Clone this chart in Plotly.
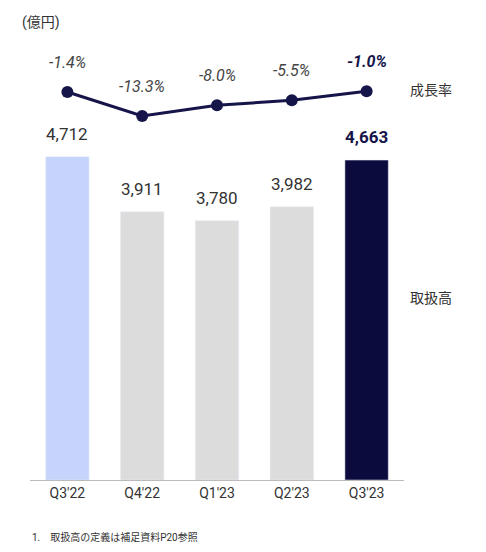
import plotly.graph_objects as go

cats = ["Q3'22", "Q4'22", "Q1'23", "Q2'23", "Q3'23"]
gmv = [4712, 3911, 3780, 3982, 4663]
growth = [-1.4, -13.3, -8.0, -5.5, -1.0]
bar_colors = ["#c6d4fb", "#dcdcdc", "#dcdcdc", "#dcdcdc", "#0b0b3d"]
F = "Roboto, Noto Sans CJK JP"

def fy(px):
    return (560 - px) / 552

fig = go.Figure()
fig.add_trace(go.Bar(x=cats, y=gmv, marker_color=bar_colors, width=0.58,
                     yaxis="y", hoverinfo="skip"))
fig.add_trace(go.Scatter(x=cats, y=growth, yaxis="y2", mode="lines+markers",
                         line=dict(color="#15154a", width=3),
                         marker=dict(size=12, color="#15154a"), xaxis="x2"))
ann = []
for i, (c, v, g) in enumerate(zip(cats, gmv, growth)):
    last = i == len(cats) - 1
    t = f"{v:,}"
    ann.append(dict(x=c, y=v, xref="x", yref="y", text=f"<b>{t}</b>" if last else t,
                    showarrow=False, yshift=23,
                    font=dict(size=17, color="#15154a" if last else "#333", family=F)))
    gt = f"{g:.1f}%"
    ann.append(dict(x=c, y=g, xref="x2", yref="y2", text=f"<b><i>{gt}</i></b>" if last else f"<i>{gt}</i>",
                    showarrow=False, yshift=30,
                    font=dict(size=16, color="#15154a" if last else "#444", family=F)))
px_ann = [
    dict(x=20, y=22, text="(億円)", xanchor="left", font=dict(size=14, color="#333", family=F)),
    dict(x=408, y=90, text="成長率", xanchor="left", font=dict(size=14, color="#333", family=F)),
    dict(x=408, y=298, text="取扱高", xanchor="left", font=dict(size=14, color="#333", family=F)),
    dict(x=30, y=537, text="1.&nbsp;&nbsp;&nbsp;&nbsp;取扱高の定義は補足資料P20参照",
         xanchor="left", font=dict(size=10, color="#333", family=F)),
]
for a in px_ann:
    a.update(xref="paper", yref="paper", showarrow=False, yanchor="middle",
             x=(a["x"] - 30) / 374, y=fy(a["y"]))
    ann.append(a)

fig.update_layout(
    width=486, height=552, margin=dict(l=22, r=90, t=0, b=0, autoexpand=False),
    paper_bgcolor="white", plot_bgcolor="white", showlegend=False,
    annotations=ann,
    xaxis=dict(range=[-0.5, 4.5], showgrid=False, showline=True, linecolor="#bbb",
               tickfont=dict(size=14, color="#333", family=F), ticks="", automargin=False),
    xaxis2=dict(range=[-0.5, 4.5], overlaying="x", visible=False, matches="x"),
    yaxis=dict(domain=[fy(480), fy(137)], range=[0, 5000], visible=False),
    yaxis2=dict(domain=[fy(125), fy(80)], range=[-17.76, 4.55], visible=False),
)
fig.write_html("out.html")
